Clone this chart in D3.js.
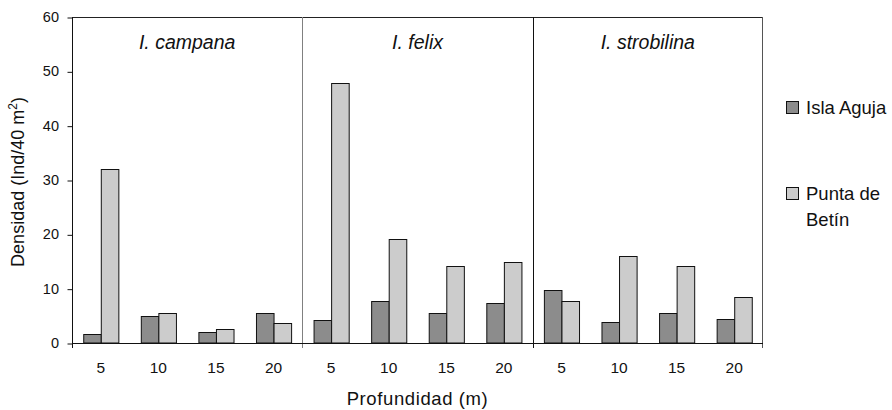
<!DOCTYPE html>
<html>
<head>
<meta charset="utf-8">
<script src="https://cdn.jsdelivr.net/npm/d3@7"></script>
<style>
  body { margin: 0; background: #fff; }
  svg { display: block; font-family: "Liberation Sans", Arial, sans-serif; }
</style>
</head>
<body>
<svg id="chart" width="892" height="410"></svg>
<script>
// data
const species = ["I. campana", "I. felix", "I. strobilina"];
const depths = ["5", "10", "15", "20"];
const seriesNames = ["Isla Aguja", "Punta de Betín"];
const islaAguja = [1.6, 4.9, 2.0, 5.5, 4.2, 7.7, 5.5, 7.4, 9.7, 3.8, 5.5, 4.5];
const puntaBetin = [32.0, 5.6, 2.6, 3.6, 47.8, 19.1, 14.2, 14.9, 7.7, 16.1, 14.2, 8.4];
const yTicks = [0, 10, 20, 30, 40, 50, 60];

const colors = ["#8c8c8c", "#cccccc"];

const svg = d3.select("#chart");
const margin = { top: 17, right: 129, bottom: 67, left: 72 };
const width = 892 - margin.left - margin.right;
const height = 410 - margin.top - margin.bottom;

const root = svg.append("g")
    .attr("transform", `translate(${margin.left},${margin.top})`);

// one slot per species/depth combination
const rows = [];
species.forEach((sp, i) => {
    depths.forEach((d, j) => {
        const k = i * depths.length + j;
        rows.push({ key: sp + "|" + d, species: sp, depth: d, values: [islaAguja[k], puntaBetin[k]] });
    });
});

const x0 = d3.scaleBand()
    .domain(rows.map(r => r.key))
    .range([0, width])
    .paddingInner(0.39)
    .paddingOuter(0.195);

const x1 = d3.scaleBand()
    .domain([0, 1])
    .range([0, x0.bandwidth()]);

const panel = d3.scaleBand()
    .domain(species)
    .range([0, width]);

const y = d3.scaleLinear()
    .domain([0, 60])
    .range([height, 0]);

// bars
const groups = root.selectAll(".grp")
    .data(rows)
    .enter()
    .append("g")
    .attr("class", "grp")
    .attr("transform", d => `translate(${x0(d.key)},0)`);

groups.selectAll("rect")
    .data(d => d.values.map((v, i) => ({ v, i })))
    .enter()
    .append("rect")
    .attr("x", d => x1(d.i) + 0.5)
    .attr("y", d => Math.round(y(d.v)) + 0.5)
    .attr("width", x1.bandwidth())
    .attr("height", d => height - Math.round(y(d.v)) - 0.5)
    .attr("fill", d => colors[d.i])
    .attr("stroke", "#111")
    .attr("stroke-width", 1);

// frame: top and right
root.append("line")
    .attr("x1", 0).attr("x2", width)
    .attr("y1", 0.5).attr("y2", 0.5)
    .attr("stroke", "#222");
root.append("line")
    .attr("x1", width - 0.5).attr("x2", width - 0.5)
    .attr("y1", 0).attr("y2", height + 5)
    .attr("stroke", "#555");

// panel dividers
species.slice(1).forEach((sp, i) => {
    const px = Math.round(panel(sp)) + 0.5;
    root.append("line")
        .attr("x1", px).attr("x2", px)
        .attr("y1", 0).attr("y2", height + 5)
        .attr("stroke", i === 0 ? "#808080" : "#111");
});

// panel titles
root.selectAll(".ptitle")
    .data(species)
    .enter()
    .append("text")
    .attr("class", "ptitle")
    .attr("x", d => panel(d) + panel.bandwidth() / 2)
    .attr("y", 32)
    .attr("text-anchor", "middle")
    .attr("font-size", "19.5px")
    .attr("font-style", "italic")
    .attr("fill", "#111")
    .text(d => d);

// y axis
const yAxis = d3.axisLeft(y).tickValues(yTicks).tickSize(5).tickPadding(8);
const gy = root.append("g").call(yAxis);
gy.select(".domain").attr("stroke", "#111").attr("d", `M0.5,0V${height + 5}`);
gy.selectAll(".tick line").attr("stroke", "#111").attr("transform", "translate(0.5,0.5)");
gy.selectAll(".tick text").attr("font-size", "14.5px").attr("fill", "#111");
gy.attr("font-family", null);

// x axis: depth labels under each slot
const xAxis = d3.axisBottom(x0).tickSize(0).tickPadding(19).tickFormat(k => k.split("|")[1]);
const gx = root.append("g")
    .attr("transform", `translate(0,${height})`)
    .call(xAxis);
gx.select(".domain").attr("stroke", "#111").attr("d", `M0,0.5H${width}`);
gx.selectAll(".tick text").attr("font-size", "15.5px").attr("fill", "#111");
gx.attr("font-family", null);

// axis titles
svg.append("text")
    .attr("transform", `translate(24,${margin.top + height / 2 + 2}) rotate(-90)`)
    .attr("text-anchor", "middle")
    .attr("font-size", "18px")
    .attr("fill", "#111")
    .html('Densidad (Ind/40 m<tspan font-size="12px" dy="-7">2</tspan><tspan dy="7">)</tspan>');

svg.append("text")
    .attr("x", margin.left + width / 2)
    .attr("y", 405)
    .attr("text-anchor", "middle")
    .attr("font-size", "18.5px")
    .attr("letter-spacing", "0.6px")
    .attr("fill", "#111")
    .text("Profundidad (m)");

// legend
const legend = svg.append("g").attr("transform", "translate(786,101)");
const legendRows = [
    { name: seriesNames[0], lines: ["Isla Aguja"], dy: 0 },
    { name: seriesNames[1], lines: ["Punta de", "Betín"], dy: 86 }
];
legendRows.forEach((r, i) => {
    const g = legend.append("g").attr("transform", `translate(0,${r.dy})`);
    g.append("rect")
        .attr("x", 0.5).attr("y", 0.5)
        .attr("width", 12).attr("height", 12)
        .attr("fill", colors[i])
        .attr("stroke", "#111");
    r.lines.forEach((t, j) => {
        g.append("text")
            .attr("x", 20)
            .attr("y", 13 + j * 26)
            .attr("font-size", "18.5px")
            .attr("fill", "#111")
            .text(t);
    });
});
</script>
</body>
</html>
